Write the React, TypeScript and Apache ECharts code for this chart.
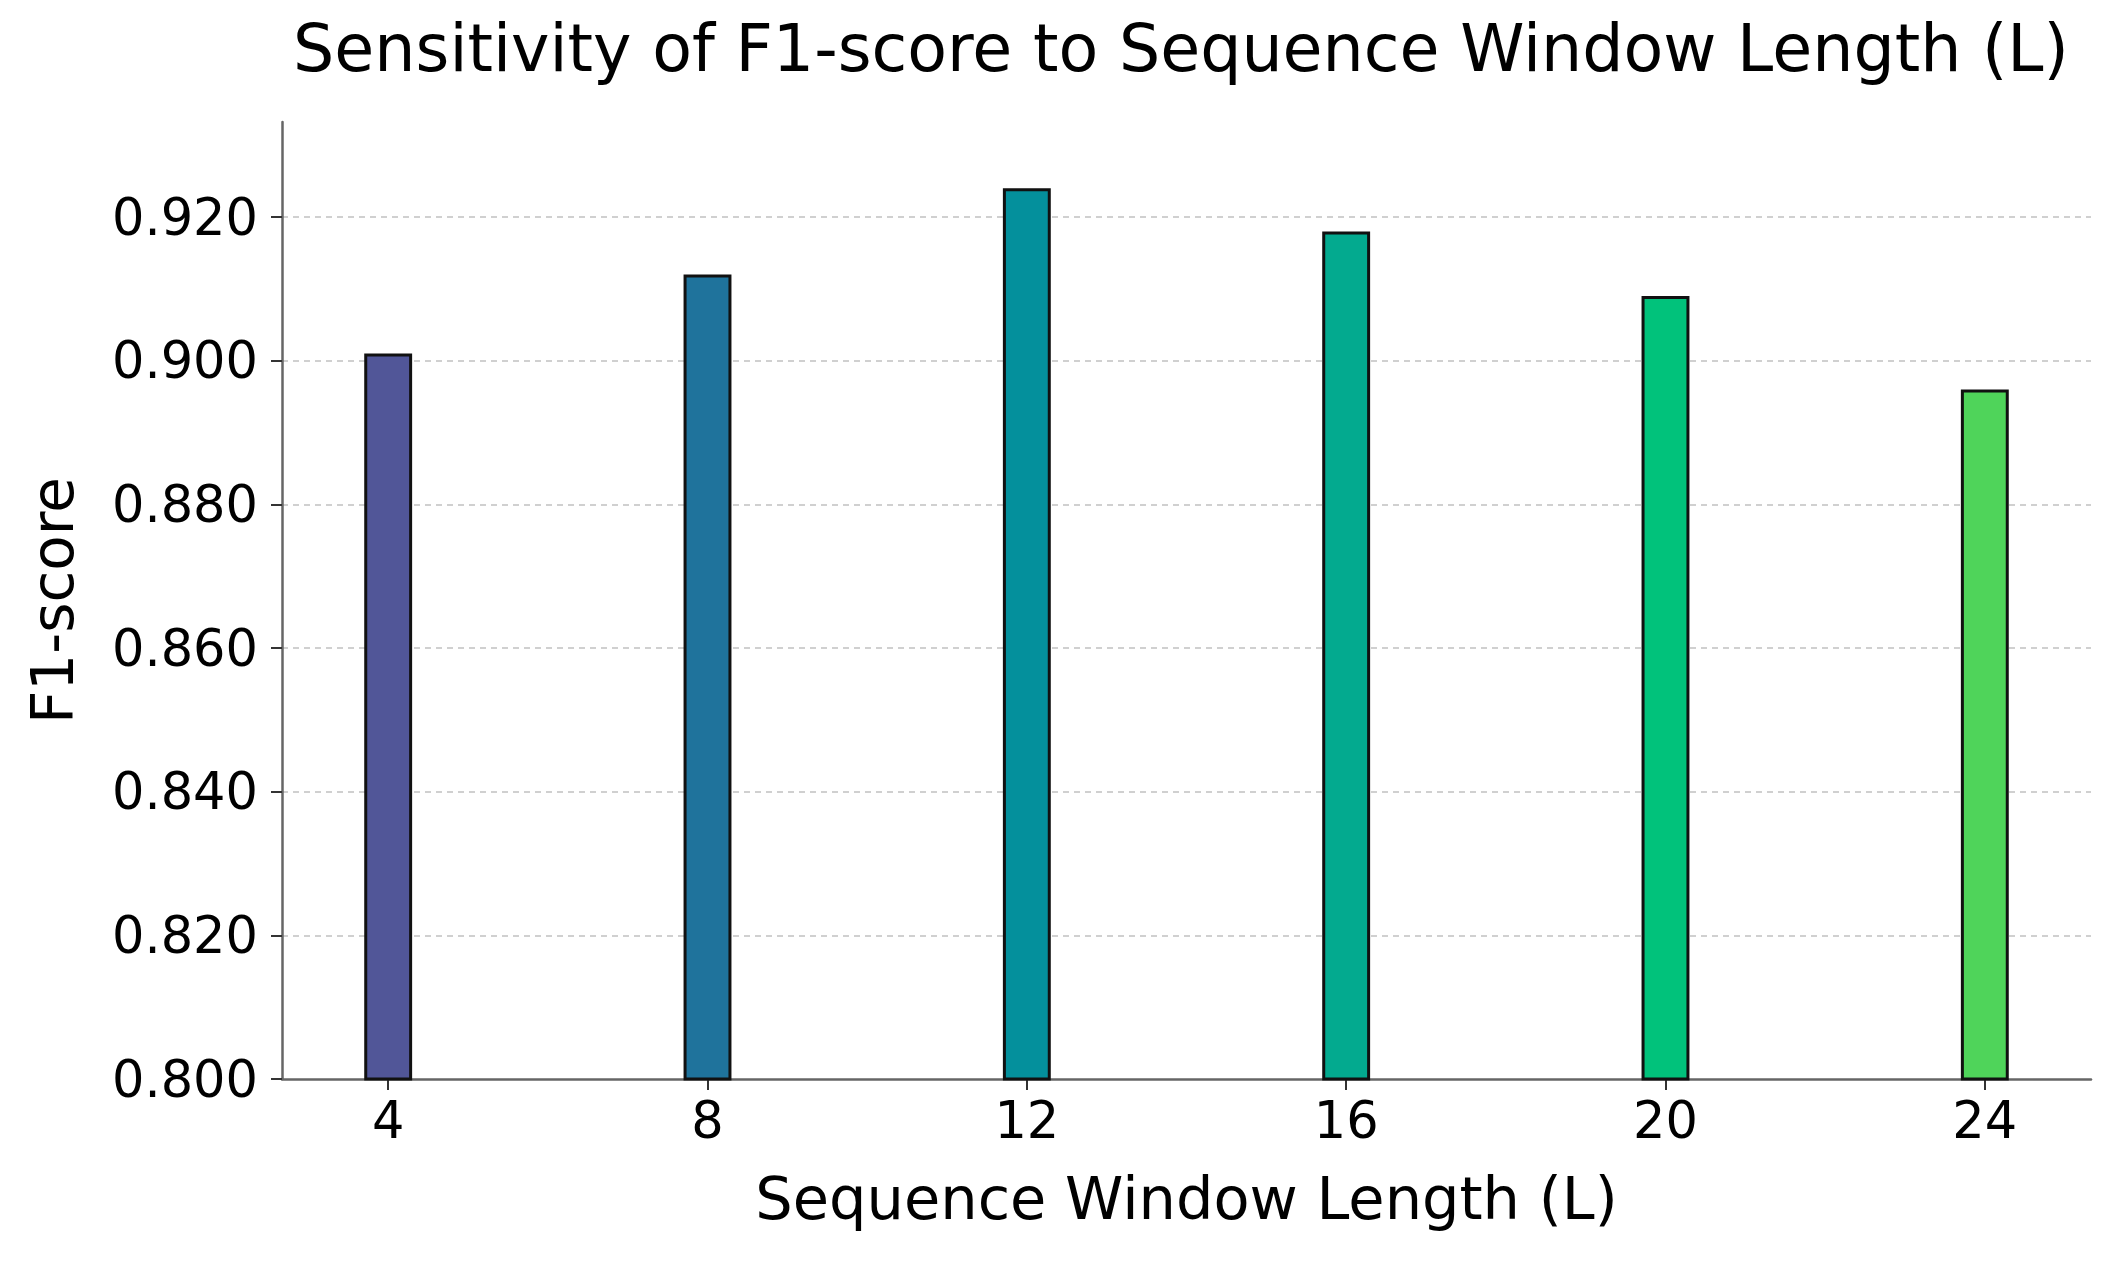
import React, { useEffect, useRef } from "react";
import * as echarts from "echarts";

const windowLengths = [4, 8, 12, 16, 20, 24];
const f1Scores = [0.901, 0.912, 0.924, 0.918, 0.909, 0.896];
const barColors = ["#515698", "#1f739c", "#04909c", "#03aa8f", "#01c27b", "#4fd45a"];
const yTickValues = [0.8, 0.82, 0.84, 0.86, 0.88, 0.9, 0.92];
const xTickValues = [4, 8, 12, 16, 20, 24];

const titleText = "Sensitivity of F1-score to Sequence Window Length (L)";
const xAxisTitle = "Sequence Window Length (L)";
const yAxisTitle = "F1-score";

const FONT = "DejaVu Sans";

export default function App() {
  const ref = useRef<HTMLDivElement>(null);

  useEffect(() => {
    if (!ref.current) return;
    const chart = echarts.init(ref.current, null, { renderer: "svg" });
    const yMax = Math.max(...f1Scores) * 1.01;
    const xMin = 2.67;
    const xMax = 25.33;

    chart.setOption({
      animation: false,
      backgroundColor: "#ffffff",
      textStyle: { fontFamily: FONT },
      title: {
        text: titleText,
        left: 1176,
        textAlign: "center",
        top: 11,
        textStyle: {
          fontFamily: FONT,
          fontSize: 65,
          fontWeight: "normal",
          color: "#000",
        },
      },
      grid: {
        left: 282,
        right: 25,
        top: 122,
        bottom: 183,
        containLabel: false,
      },
      xAxis: {
        type: "value",
        min: xMin,
        max: xMax,
        name: xAxisTitle,
        nameLocation: "middle",
        nameGap: 90,
        nameTextStyle: { fontFamily: FONT, fontSize: 59, color: "#000" },
        axisLine: { show: true, lineStyle: { color: "#666", width: 2.5 } },
        axisTick: {
          show: true,
          inside: false,
          length: 11,
          lineStyle: { color: "#333", width: 2 },
          customValues: xTickValues,
        },
        axisLabel: {
          customValues: xTickValues,
          fontFamily: FONT,
          fontSize: 51,
          color: "#000",
          margin: 16,
        },
        splitLine: { show: false },
      },
      yAxis: {
        type: "value",
        min: 0.8,
        max: yMax,
        interval: 0.02,
        name: yAxisTitle,
        nameLocation: "middle",
        nameGap: 200,
        nameRotate: 90,
        nameTextStyle: { fontFamily: FONT, fontSize: 58, color: "#000" },
        axisLine: { show: true, lineStyle: { color: "#666", width: 2.5 } },
        axisTick: {
          show: true,
          inside: false,
          length: 11,
          lineStyle: { color: "#333", width: 2 },
          customValues: yTickValues,
        },
        axisLabel: {
          customValues: yTickValues,
          fontFamily: FONT,
          fontSize: 51,
          color: "#000",
          margin: 24,
          formatter: (v: number) => v.toFixed(3),
        },
        splitLine: {
          show: true,
          showMinLine: false,
          lineStyle: { color: "#d0d0d0", width: 1.8, type: [6, 5] },
        },
      },
      series: [
        {
          type: "bar",
          barWidth: "15%",
          data: windowLengths.map((x, i) => ({
            value: [x, f1Scores[i]],
            itemStyle: {
              color: barColors[i],
              borderColor: "#111",
              borderWidth: 3,
            },
          })),
        },
      ],
    });

    return () => chart.dispose();
  }, []);

  return (
    <div
      ref={ref}
      style={{ position: "absolute", left: 0, top: 0, width: 2116, height: 1262 }}
    />
  );
}
